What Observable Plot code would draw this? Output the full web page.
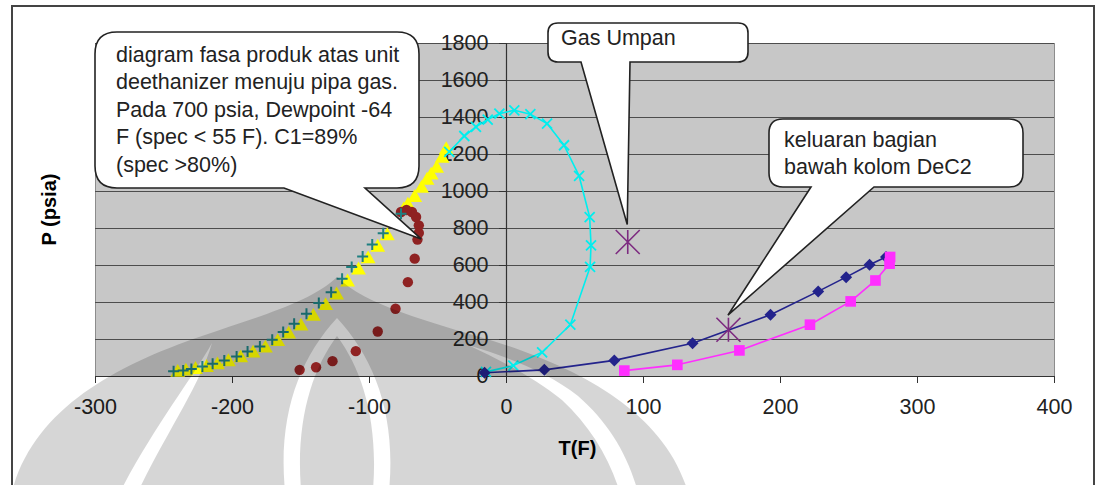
<!DOCTYPE html>
<html><head><meta charset="utf-8">
<script src="https://cdn.jsdelivr.net/npm/d3@7"></script>
<script src="https://cdn.jsdelivr.net/npm/@observablehq/plot@0.6"></script>
<style>
html,body{margin:0;padding:0;background:#fff;}
#wrap{position:relative;width:1095px;height:485px;overflow:hidden;}
#wrap svg{position:absolute;left:0;top:0;}
#border{position:absolute;left:11px;top:5px;width:1084px;height:520px;border:2px solid #444;box-sizing:border-box;pointer-events:none;}
</style></head><body><div id="wrap"></div>
<script>
// ---- axes ----
const xTicks = [-300, -200, -100, 0, 100, 200, 300, 400];
const yTicks = [0, 200, 400, 600, 800, 1000, 1200, 1400, 1600, 1800];
const xTitle = "T(F)";
const yTitle = "P (psia)";

// ---- series: phase envelope of the feed gas (cyan, x markers) ----
const feedT = [-15, 5, 26, 46.6, 61, 61.7, 60.7, 53, 42, 29.6, 17.4, 5.7, -5.2, -13.7, -22.3, -30.8, -41.8];
const feedP = [25, 59, 131, 280, 592, 709, 862, 1084, 1250, 1367, 1418, 1439, 1421, 1389, 1349, 1300, 1214];

// ---- overhead product (yellow triangles) ----
const yellowT = [-240, -234, -227, -219, -211, -203, -194, -185, -176, -167, -159, -150, -141, -132, -124, -116, -108, -101, -94, -87, -81, -75, -72, -67, -62, -58, -55, -51, -47, -44];
const yellowP = [22, 28, 37, 48, 62, 79, 100, 126, 153, 188, 228, 272, 324, 382, 440, 510, 575, 635, 698, 760, 830, 900, 925, 967, 1016, 1060, 1088, 1124, 1178, 1225];

// ---- overhead product (teal plus) ----
const tealT = [-243, -236, -230, -222, -214.5, -206, -197, -189, -180, -171, -163, -155, -146, -137, -128, -120, -113, -105, -98, -90, -77];
const tealP = [29, 32, 41, 54, 69, 87, 108, 135, 162, 198, 240, 285, 339, 397, 456, 528, 592, 649, 713, 774, 880];

// ---- dew point curve (dark red circles) ----
const redT = [-151, -139, -127, -110, -94, -81, -72, -67, -65, -64, -64, -66, -69, -73, -77];
const redP = [36, 50, 83, 137, 243, 366, 510, 637, 740, 776, 817, 862, 889, 900, 889];

// ---- bottoms (navy diamonds) ----
const navyT = [-16, 27.6, 78.7, 135.8, 192.7, 227.5, 247.9, 265, 277];
const navyP = [20, 36, 87, 180, 334, 460, 537, 604, 646];

// ---- bottoms (magenta squares) ----
const magT = [86, 124.7, 170, 221.5, 251.2, 269.3, 279.6, 280];
const magP = [32, 63, 141, 280, 406, 519, 610, 646];

// ---- single points (purple asterisks) ----
const starT = [88.5, 162];
const starP = [727, 253];

// ---- callouts ----
const calloutLines = [
  ["diagram fasa produk atas unit", "deethanizer menuju pipa gas.", "Pada 700 psia, Dewpoint -64", "F (spec < 55 F). C1=89%", "(spec >80%)"],
  ["Gas Umpan"],
  ["keluaran bagian", "bawah kolom DeC2"]
];
const calloutTipT = [-62, 88.5, 162];
const calloutTipP = [741, 727, 253];

const zip = (T, P) => T.map((t, i) => ({t, p: P[i]}));
const feed = zip(feedT, feedP), yellow = zip(yellowT, yellowP), teal = zip(tealT, tealP);
const red = zip(redT, redP), navy = zip(navyT, navyP), mag = zip(magT, magP), stars = zip(starT, starP);

const asterisk = {
  draw(ctx, size) {
    const r = Math.sqrt(size / Math.PI);
    ctx.moveTo(0, -r); ctx.lineTo(0, r);
    ctx.moveTo(-r, -r); ctx.lineTo(r, r);
    ctx.moveTo(-r, r); ctx.lineTo(r, -r);
  }
};
const diamond = {
  draw(ctx, size) {
    const r = Math.sqrt(size / Math.PI);
    ctx.moveTo(0, -r); ctx.lineTo(r, 0); ctx.lineTo(0, r); ctx.lineTo(-r, 0); ctx.closePath();
  }
};
const plus = {
  draw(ctx, size) {
    const r = Math.sqrt(size / Math.PI);
    ctx.moveTo(0, -r); ctx.lineTo(0, r);
    ctx.moveTo(-r, 0); ctx.lineTo(r, 0);
  }
};
const times = {
  draw(ctx, size) {
    const r = Math.sqrt(size / Math.PI);
    ctx.moveTo(-r, -r); ctx.lineTo(r, r);
    ctx.moveTo(-r, r); ctx.lineTo(r, -r);
  }
};

const W = 1095, H = 485, mL = 95, mR = 41, mT = 43, mB = 109;
const kx = (W - mL - mR) / 700;
const FONT = "'Liberation Sans', Arial, sans-serif";

const plot = Plot.plot({
  width: W, height: H,
  marginLeft: mL, marginRight: mR, marginTop: mT, marginBottom: mB,
  style: {fontFamily: FONT, fontSize: "21.5px", color: "#222", background: "transparent", overflow: "visible"},
  x: {domain: [-300, 400], label: null},
  y: {domain: [0, 1800], axis: null},
  marks: [
    Plot.frame({fill: "#c7c7c7", stroke: "#8c8c8c"}),
    Plot.gridY(yTicks, {stroke: "#4d4d4d", strokeOpacity: 1, strokeWidth: 1}),
    Plot.ruleX([0], {stroke: "#333", strokeWidth: 1.2}),
    Plot.ruleY(yTicks, {y: d => d, x1: -7 / kx, x2: 0, stroke: "#333"}),
    Plot.ruleY([0], {stroke: "#333", strokeWidth: 1.2}),
    Plot.axisX(xTicks, {tickSize: 7, tickPadding: 15, fontSize: 21.5, stroke: "#333", fill: "#222", tickFormat: d => String(d)}),
    Plot.text(yTicks, {x: 0, y: d => d, text: d => String(d), textAnchor: "end", dx: -18, fontSize: 21.5, fill: "#222"}),
    // series
    Plot.dot(yellow, {x: "t", y: "p", symbol: "triangle", fill: "#ffff00", r: 5.5}),
    Plot.line(feed, {x: "t", y: "p", stroke: "#00eeee", strokeWidth: 1.6}),
    Plot.dot(feed, {x: "t", y: "p", symbol: times, stroke: "#00eeee", fill: "none", r: 5, strokeWidth: 1.8}),
    Plot.dot(red, {x: "t", y: "p", fill: "#8f2222", r: 5.2}),
    Plot.dot(teal, {x: "t", y: "p", symbol: plus, stroke: "#1e7f80", fill: "none", r: 5.5, strokeWidth: 2}),
    Plot.line(navy, {x: "t", y: "p", stroke: "#23238c", strokeWidth: 1.6}),
    Plot.dot(navy, {x: "t", y: "p", symbol: diamond, fill: "#23238c", r: 6}),
    Plot.line(mag, {x: "t", y: "p", stroke: "#ff2eff", strokeWidth: 1.6}),
    Plot.dot(mag, {x: "t", y: "p", symbol: "square", fill: "#ff2eff", r: 6}),
    Plot.dot(stars, {x: "t", y: "p", symbol: asterisk, stroke: "#7d2b80", fill: "none", r: 12, strokeWidth: 1.6})
  ]
});

document.getElementById("wrap").appendChild(plot);
const b = document.createElement("div"); b.id = "border";
document.getElementById("wrap").appendChild(b);

const svg = d3.select(plot);
// axis titles
svg.append("text").attr("x", (mL + W - mR) / 2 + 3).attr("y", 455)
  .attr("text-anchor", "middle").attr("font-family", FONT).attr("font-size", 20)
  .attr("font-weight", "bold").attr("fill", "#000").text(xTitle);
svg.append("text").attr("transform", `translate(56,${(mT + H - mB) / 2}) rotate(-90)`)
  .attr("text-anchor", "middle").attr("font-family", FONT).attr("font-size", 20)
  .attr("font-weight", "bold").attr("fill", "#000").text(yTitle);

// callout bubbles (annotation layer, tips placed through the scales)
const sx = plot.scale("x"), sy = plot.scale("y");
const boxes = [
  {x0: 95, y0: 32, x1: 419, y1: 188, r: 22, b0: 284, b1: 365, tx: 116, ty: 61.7, dy: 0},
  {x0: 548, y0: 23, x1: 748, y1: 62, r: 10, b0: 581, b1: 630, tx: 561, ty: 45, dy: -17},
  {x0: 769, y0: 119, x1: 1023, y1: 187, r: 14, b0: 811, b1: 874, tx: 784, ty: 146.7, dy: -14}
];
const g = svg.append("g");
boxes.forEach((bx, i) => {
  const px = sx.apply(calloutTipT[i]), py = sy.apply(calloutTipP[i]) + bx.dy;
  const {x0, y0, x1, y1, r} = bx;
  const d = `M${x0 + r},${y0} H${x1 - r} Q${x1},${y0} ${x1},${y0 + r} V${y1 - r} Q${x1},${y1} ${x1 - r},${y1} H${bx.b1} L${px},${py} L${bx.b0},${y1} H${x0 + r} Q${x0},${y1} ${x0},${y1 - r} V${y0 + r} Q${x0},${y0} ${x0 + r},${y0} Z`;
  g.append("path").attr("d", d).attr("fill", "#fff").attr("stroke", "#222").attr("stroke-width", 1.6);
  calloutLines[i].forEach((line, j) => {
    g.append("text").attr("x", bx.tx).attr("y", bx.ty + j * 27.5).attr("text-anchor", "start")
      .attr("font-family", FONT).attr("font-size", 21.5).attr("fill", "#222").text(line);
  });
});

// faint page watermark (decorative, on top of everything like the scanned page)
const wm = [
  "M337,277 C365,305 430,322 490,340 C580,368 670,414 690,500 L10,500 C28,414 108,368 202,336 C254,318 312,302 337,277 Z",
  "M212,343 C190,382 150,432 116,500 L134,500 C165,434 200,386 212,343 Z",
  "M468,345 C500,360 535,378 562,400 C592,428 612,462 622,500 L640,500 C630,458 610,424 578,396 C548,372 505,356 468,345 Z",
  "M337,318 C298,360 276,420 286,500 L302,500 C294,428 310,372 337,336 C364,372 380,428 372,500 L388,500 C398,420 376,360 337,318 Z"
].join(" ");
svg.append("path").attr("d", wm).attr("fill", "#000").attr("fill-opacity", 0.16)
  .attr("fill-rule", "evenodd").attr("pointer-events", "none");
</script></body></html>
